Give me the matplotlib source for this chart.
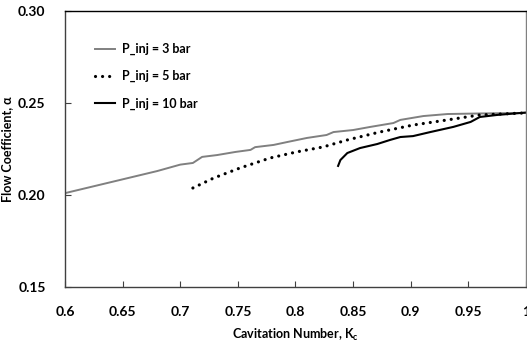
import matplotlib
matplotlib.use("Agg")
import matplotlib.pyplot as plt

plt.rcParams['font.family'] = ['Lato', 'DejaVu Sans']
plt.rcParams['font.weight'] = 'bold'

k_3bar = [0.600, 0.620, 0.650, 0.680, 0.700, 0.711, 0.719, 0.732, 0.748, 0.761, 0.765,
          0.781, 0.793, 0.810, 0.827, 0.833, 0.850, 0.865, 0.885, 0.891, 0.911, 0.932, 0.960, 1.000]
a_3bar = [0.2010, 0.2040, 0.2085, 0.2130, 0.2165, 0.2174, 0.2207, 0.2217, 0.2234, 0.2245, 0.2260,
          0.2272, 0.2288, 0.2310, 0.2326, 0.2342, 0.2353, 0.2370, 0.2391, 0.2408, 0.2429, 0.2440, 0.2443, 0.2446]

k_5bar = [0.711, 0.729, 0.752, 0.778, 0.801, 0.824, 0.845, 0.873, 0.902, 0.932, 0.960, 1.000]
a_5bar = [0.2038, 0.2092, 0.2147, 0.2201, 0.2234, 0.2261, 0.2299, 0.2342, 0.2380, 0.2408, 0.2435, 0.2446]

k_10bar = [0.837, 0.839, 0.845, 0.856, 0.871, 0.882, 0.891, 0.902, 0.917, 0.937, 0.952, 0.960, 0.975, 1.000]
a_10bar = [0.2158, 0.2190, 0.2228, 0.2255, 0.2277, 0.2299, 0.2315, 0.2320, 0.2342, 0.2370, 0.2397, 0.2424, 0.2435, 0.2448]

x_ticks = [0.6, 0.65, 0.7, 0.75, 0.8, 0.85, 0.9, 0.95, 1.0]
x_ticklabels = ['0.6', '0.65', '0.7', '0.75', '0.8', '0.85', '0.9', '0.95', '1']
y_ticks = [0.15, 0.20, 0.25, 0.30]
y_ticklabels = ['0.15', '0.20', '0.25', '0.30']

fig = plt.figure(figsize=(5.27, 3.43), dpi=100)
ax = fig.add_axes([0.1233, 0.1633, 0.8747, 0.8047])

ax.plot(k_3bar, a_3bar, color='#808080', lw=1.4, label='P_inj = 3 bar')
ax.plot(k_5bar, a_5bar, color='black', lw=2.3, linestyle=(0, (0.01, 2.2)),
        dash_capstyle='round', label='P_inj = 5 bar')
ax.plot(k_10bar, a_10bar, color='black', lw=1.5, label='P_inj = 10 bar')

ax.set_xlim(0.6, 1.0)
ax.set_ylim(0.15, 0.30)
ax.set_xticks(x_ticks)
ax.set_xticklabels(x_ticklabels)
ax.set_yticks(y_ticks)
ax.set_yticklabels(y_ticklabels)
ax.tick_params(direction='in', length=4, labelsize=10, pad=14, color='#404040')
ax.tick_params(axis='y', pad=14)
for s in ax.spines.values():
    s.set_color('#404040')
    s.set_linewidth(1.0)
ax.spines['top'].set_color('black')
ax.spines['right'].set_color('#808080')

ax.set_xlabel('Cavitation Number, K$_\\mathregular{c}$', fontsize=9, fontweight='bold')
ax.set_ylabel('Flow Coefficient, α', fontsize=9, fontweight='bold')
ax.xaxis.set_label_coords(0.5, -0.145)
ax.yaxis.set_label_coords(-0.112, 0.5)

leg = ax.legend(loc='upper left', frameon=False, fontsize=9, handlelength=1.6,
                labelspacing=1.2, bbox_to_anchor=(0.04, 0.925), handletextpad=0.6)

fig.savefig('out.png', dpi=100)
